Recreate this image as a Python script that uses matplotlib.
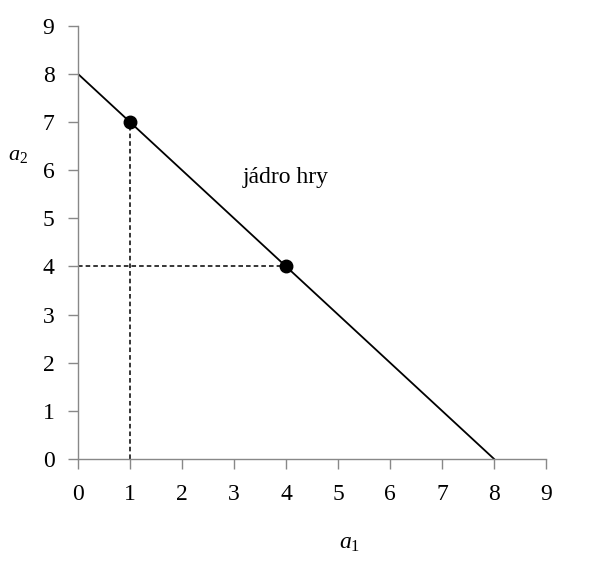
import matplotlib
matplotlib.use("Agg")
import matplotlib.pyplot as plt

line_x = [0, 8]
line_y = [8, 0]
points_x = [1, 4]
points_y = [7, 4]
ticks = list(range(10))

plt.rcParams['font.family'] = ['Liberation Serif', 'DejaVu Serif']
plt.rcParams['mathtext.fontset'] = 'custom'
plt.rcParams['mathtext.it'] = 'Liberation Serif:italic'
plt.rcParams['mathtext.rm'] = 'Liberation Serif'

fig = plt.figure(figsize=(6, 5.61), dpi=100)
ax = fig.add_axes([0.13, 0.182, 0.78, 0.772])

ax.plot(line_x, line_y, color='black', lw=1.3)
# dashed guides
ax.plot([points_x[0], points_x[0]], [0, points_y[0]], color='black', lw=1.1, ls=(0, (3, 2)))
ax.plot([0, points_x[1]], [points_y[1], points_y[1]], color='black', lw=1.1, ls=(0, (3, 2)))
ax.plot(points_x, points_y, 'o', color='black', markersize=9, zorder=5)

ax.text(4.0, 5.84, 'jádro hry', ha='center', va='center', fontsize=17)

ax.set_xlim(0, 9)
ax.set_ylim(0, 9)
ax.set_xticks(ticks)
ax.set_yticks(ticks)
ax.tick_params(direction='out', length=7, width=1, color='#888888', labelsize=17)
ax.tick_params(axis='x', pad=11)
ax.tick_params(axis='y', pad=10)
for s in ['top', 'right']:
    ax.spines[s].set_visible(False)
for s in ['left', 'bottom']:
    ax.spines[s].set_color('#888888')
    ax.spines[s].set_linewidth(1)
ax.spines['left'].set_bounds(0, 9)
ax.spines['bottom'].set_bounds(0, 9)

fig.text(350/600, 1 - 543/561, r'$a_1$', ha='center', va='center', fontsize=17)
fig.text(18/600, 1 - 155/561, r'$a_{\mathrm{2}}$', ha='center', va='center', fontsize=16)

fig.savefig('out.png', dpi=100, facecolor='white')
